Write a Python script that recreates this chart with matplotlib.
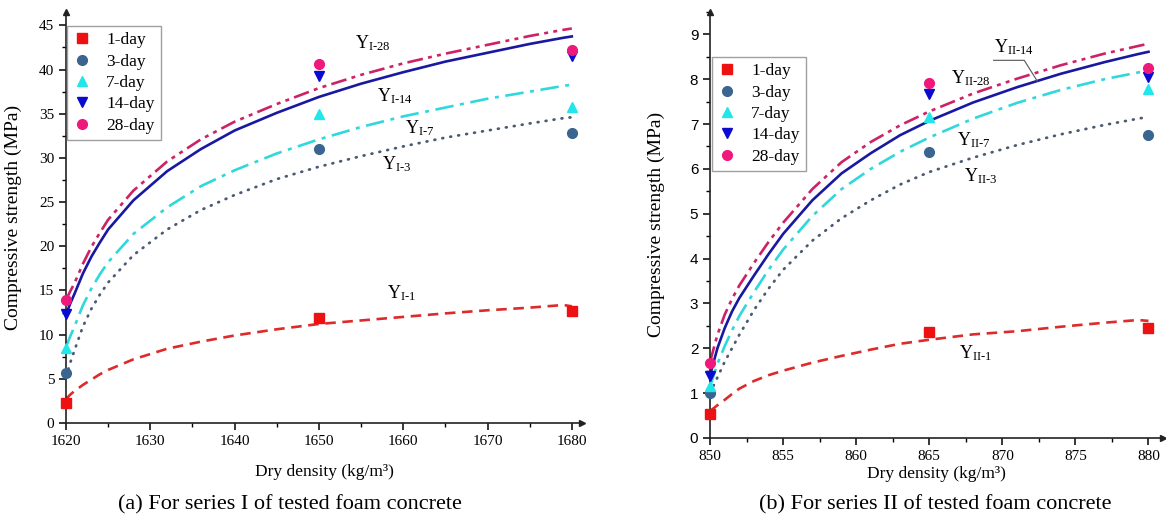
import matplotlib
matplotlib.use("Agg")
import matplotlib.pyplot as plt
from matplotlib.ticker import MultipleLocator

plt.rcParams['font.family'] = ['Liberation Serif', 'DejaVu Serif']
plt.rcParams['mathtext.fontset'] = 'custom'
plt.rcParams['mathtext.rm'] = 'Liberation Serif'
plt.rcParams['mathtext.it'] = 'Liberation Serif:italic'

# ---- series I (measured points) ----
dens_I = [1620, 1650, 1680]
I_1day = [2.2, 11.9, 12.7]
I_3day = [5.6, 31.0, 32.8]
I_7day = [8.5, 35.0, 35.8]
I_14day = [12.3, 39.3, 41.5]
I_28day = [13.9, 40.6, 42.2]

# ---- series I fitted curves ----
fit_x_I = [1620, 1620.5, 1621, 1622, 1623, 1624, 1625, 1628, 1632, 1636, 1640, 1645, 1650,
           1655, 1660, 1665, 1670, 1675, 1679, 1680]
fit_I_1 = [2.7, 3.2, 3.6, 4.3, 4.9, 5.5, 6.0, 7.2, 8.4, 9.2, 9.9, 10.6, 11.2,
           11.6, 12.0, 12.4, 12.75, 13.05, 13.35, 13.2]
fit_I_3 = [5.2, 6.8, 8.2, 10.9, 12.9, 14.5, 15.9, 19.0, 21.9, 24.1, 25.8, 27.6, 29.0,
           30.2, 31.3, 32.3, 33.1, 33.9, 34.5, 34.6]
fit_I_7 = [8.6, 9.8, 10.9, 13.3, 15.2, 16.8, 18.2, 21.4, 24.4, 26.8, 28.6, 30.5, 32.1,
           33.5, 34.7, 35.7, 36.7, 37.5, 38.15, 38.3]
fit_I_14 = [12.3, 13.5, 14.6, 16.9, 18.8, 20.4, 21.9, 25.2, 28.5, 31.0, 33.1, 35.1, 36.9,
            38.4, 39.7, 40.9, 41.9, 42.9, 43.6, 43.75]
fit_I_28 = [13.9, 14.9, 15.8, 18.0, 19.9, 21.5, 23.0, 26.3, 29.6, 32.1, 34.1, 36.1, 37.9,
            39.4, 40.7, 41.8, 42.8, 43.8, 44.5, 44.65]

# ---- series II (measured points) ----
dens_II = [850, 865, 880]
II_1day = [0.53, 2.37, 2.46]
II_3day = [1.01, 6.38, 6.76]
II_7day = [1.15, 7.16, 7.78]
II_14day = [1.38, 7.66, 8.05]
II_28day = [1.68, 7.92, 8.25]

# ---- series II fitted curves ----
fit_x_II = [850, 850.5, 851, 851.5, 852, 853, 854, 855, 857, 859, 861, 863, 865,
            868, 871, 874, 877, 879.3, 880]
fit_II_1 = [0.6, 0.73, 0.85, 0.98, 1.1, 1.27, 1.4, 1.5, 1.68, 1.83, 1.97, 2.1, 2.19,
            2.31, 2.38, 2.48, 2.57, 2.63, 2.61]
fit_II_3 = [1.0, 1.35, 1.7, 2.0, 2.3, 2.85, 3.33, 3.75, 4.4, 4.9, 5.3, 5.65, 5.93,
            6.25, 6.53, 6.77, 6.98, 7.12, 7.16]
fit_II_7 = [1.15, 1.65, 2.05, 2.4, 2.72, 3.25, 3.75, 4.2, 4.95, 5.55, 6.0, 6.38, 6.7,
            7.12, 7.47, 7.76, 8.0, 8.15, 8.18]
fit_II_14 = [1.4, 2.0, 2.45, 2.82, 3.12, 3.62, 4.1, 4.55, 5.3, 5.9, 6.35, 6.75, 7.07,
             7.48, 7.82, 8.12, 8.38, 8.56, 8.61]
fit_II_28 = [1.7, 2.3, 2.75, 3.1, 3.4, 3.9, 4.37, 4.8, 5.55, 6.15, 6.6, 6.97, 7.28,
             7.68, 8.01, 8.31, 8.57, 8.74, 8.79]

day_labels = ['1-day', '3-day', '7-day', '14-day', '28-day']
markers = ['s', 'o', '^', 'v', 'o']
mcolors = ['#ee1111', '#3a6590', '#22e6ea', '#0a0ad0', '#f0187a']
lcolors = ['#dd2a2a', '#4a5a72', '#30d8dc', '#1818a0', '#cc2266']
ldashes = [(4, 2.5), (0.3, 2.6), (7, 2.5, 1.5, 2.5), None, (6, 2, 1.5, 2, 1.5, 2)]


def draw_panel(ax, dens, pts, fx, fits, labels, xlim, ylim, xticks, xmin, yticks, ymin):
    for i in range(5):
        if ldashes[i] is None:
            ax.plot(fx, fits[i], color=lcolors[i], lw=1.9)
        else:
            ax.plot(fx, fits[i], color=lcolors[i], lw=1.9 if i != 1 else 2.0,
                    dashes=ldashes[i], dash_capstyle='round' if i == 1 else 'butt')
    for i in range(5):
        ax.plot(dens, pts[i], linestyle='none', marker=markers[i], ms=7,
                color=mcolors[i], label=day_labels[i], clip_on=False, zorder=5)
    ax.set_xticks(xticks)
    ax.set_yticks(yticks)
    ax.xaxis.set_minor_locator(MultipleLocator(xmin))
    ax.yaxis.set_minor_locator(MultipleLocator(ymin))
    ax.set_xlim(*xlim)
    ax.set_ylim(*ylim)
    for s in ['top', 'right']:
        ax.spines[s].set_visible(False)
    for s in ['left', 'bottom']:
        ax.spines[s].set_linewidth(1.2)
        ax.spines[s].set_color('#222222')
    ax.tick_params(which='major', direction='out', length=5, width=1.1, labelsize=11)
    ax.tick_params(which='minor', direction='out', length=3, width=1.0)
    ax.plot(1, 0, marker='>', ms=5, color='#222222', transform=ax.get_yaxis_transform(), clip_on=False)
    ax.plot(xlim[0], 1, marker='^', ms=5, color='#222222', transform=ax.get_xaxis_transform(), clip_on=False)
    ax.set_ylabel('Compressive strength (MPa)', fontsize=14)
    ax.set_xlabel('Dry density (kg/m³)', fontsize=12.5)
    for txt, x, y in labels:
        ax.text(x, y, txt, fontsize=13, va='center', ha='left')


fig = plt.figure(figsize=(11.66, 5.28), dpi=100)
ax1 = fig.add_axes([0.0566, 0.199, 0.4425, 0.778])
ax2 = fig.add_axes([0.609, 0.1705, 0.3885, 0.807])

labels_I = [(r'Y$_{\text{I-28}}$', 1654.3, 43.0),
            (r'Y$_{\text{I-14}}$', 1656.9, 37.0),
            (r'Y$_{\text{I-7}}$', 1660.2, 33.4),
            (r'Y$_{\text{I-3}}$', 1657.5, 29.3),
            (r'Y$_{\text{I-1}}$', 1658.1, 14.7)]
draw_panel(ax1, dens_I, [I_1day, I_3day, I_7day, I_14day, I_28day], fit_x_I,
           [fit_I_1, fit_I_3, fit_I_7, fit_I_14, fit_I_28], labels_I,
           (1620, 1681.2), (0, 46.5), [1620, 1630, 1640, 1650, 1660, 1670, 1680], 5,
           [0, 5, 10, 15, 20, 25, 30, 35, 40, 45], 2.5)
ax1.yaxis.set_label_coords(-0.085, 0.5)
ax1.xaxis.set_label_coords(0.5, -0.1)

labels_II = [(r'Y$_{\text{II-14}}$', 869.4, 8.72),
             (r'Y$_{\text{II-28}}$', 866.5, 8.03),
             (r'Y$_{\text{II-7}}$', 866.9, 6.65),
             (r'Y$_{\text{II-3}}$', 867.4, 5.83),
             (r'Y$_{\text{II-1}}$', 867.0, 1.9)]
draw_panel(ax2, dens_II, [II_1day, II_3day, II_7day, II_14day, II_28day], fit_x_II,
           [fit_II_1, fit_II_3, fit_II_7, fit_II_14, fit_II_28], labels_II,
           (850, 881), (0, 9.5), [850, 855, 860, 865, 870, 875, 880], 2.5,
           [0, 1, 2, 3, 4, 5, 6, 7, 8, 9], 0.5)
ax2.plot([869.4, 871.5, 872.4], [8.42, 8.42, 7.95], color='#555555', lw=0.8)
for t in ax2.get_yticklabels():
    t.set_family('Liberation Sans')
ax2.yaxis.set_label_coords(-0.1, 0.5)
ax2.xaxis.set_label_coords(0.5, -0.065)

leg_kw = dict(frameon=True, fancybox=False, edgecolor='#888888', fontsize=12.5,
              handlelength=1.0, handletextpad=0.9, labelspacing=0.3, borderpad=0.35,
              borderaxespad=0)
lg1 = ax1.legend(loc='upper left', bbox_to_anchor=(0.002, 0.966), **leg_kw)
lg2 = ax2.legend(loc='upper left', bbox_to_anchor=(0.004, 0.894), **leg_kw)
for lg in (lg1, lg2):
    lg.get_frame().set_linewidth(1.0)

fig.text(0.2487, 0.035, '(a) For series I of tested foam concrete', fontsize=16, ha='center')
fig.text(0.802, 0.035, '(b) For series II of tested foam concrete', fontsize=16, ha='center')

fig.savefig('out.png', dpi=100)
